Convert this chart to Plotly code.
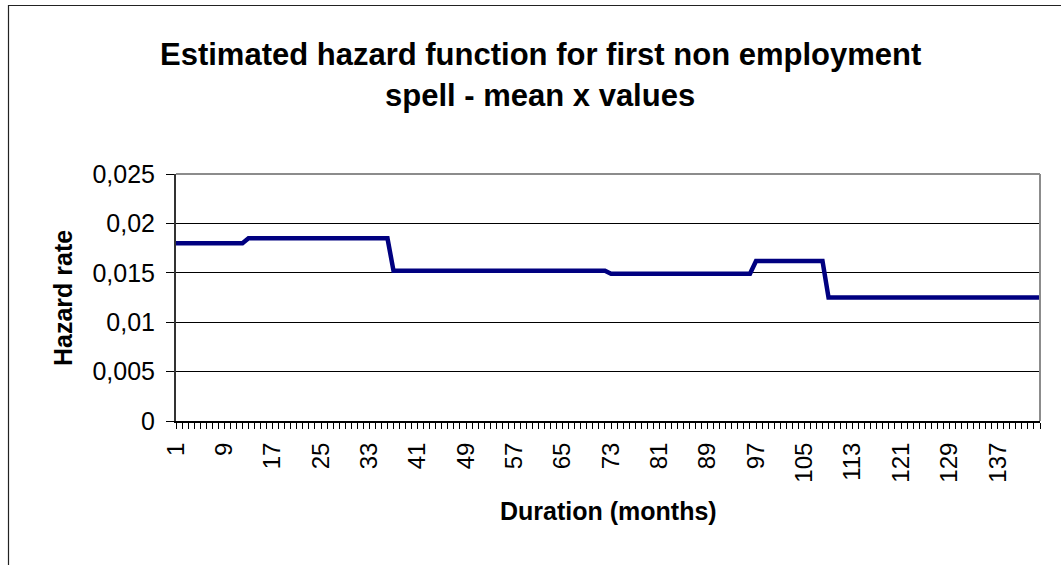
import plotly.graph_objects as go

# ---- data ----
months = list(range(1, 145))
hazard = ([0.0180] * 12 + [0.0185] * 24 + [0.0152] * 36 +
          [0.0149] * 24 + [0.0162] * 12 + [0.0125] * 36)

x_tick_vals = [1, 9, 17, 25, 33, 41, 49, 57, 65, 73, 81, 89, 97, 105, 113, 121, 129, 137]
x_tick_text = [str(v) for v in x_tick_vals]
y_tick_vals = [0, 0.005, 0.01, 0.015, 0.02, 0.025]
y_tick_text = ["0", "0,005", "0,01", "0,015", "0,02", "0,025"]

title_line1 = "Estimated hazard function for first non employment"
title_line2 = "spell - mean x values"
x_title = "Duration (months)"
y_title = "Hazard rate"

# ---- layout geometry (pixels) ----
W, H = 1061, 565
L, T = 176, 174
R = W - 1040
B = H - 421
pw, ph = W - L - R, H - T - B


def px_x(p):  # page pixel -> paper coordinate
    return (p - L) / pw


def px_y(p):
    return (H - B - p) / ph


FONT = "Arial, Liberation Sans, sans-serif"

fig = go.Figure()
fig.add_trace(go.Scatter(
    x=months, y=hazard, mode="lines",
    line=dict(color="#000080", width=4.5),
    showlegend=False, hoverinfo="skip",
))

fig.update_layout(
    width=W, height=H,
    margin=dict(l=L, r=R, t=T, b=B, pad=0),
    paper_bgcolor="white", plot_bgcolor="white",
    font=dict(family=FONT, size=24, color="black"),
    showlegend=False,
    xaxis=dict(
        range=[1, 144], tickmode="array", tickvals=x_tick_vals, ticktext=x_tick_text,
        tickangle=-90, ticks="outside", ticklen=6, tickcolor="black", tickwidth=1,
        ticklabelstandoff=4,
        showgrid=False, zeroline=False, showline=True, linecolor="black", linewidth=2,
        tickfont=dict(family=FONT, size=24),
        minor=dict(dtick=1, tick0=1, ticks="outside", ticklen=6, tickcolor="black",
                   tickwidth=1, showgrid=False),
    ),
    yaxis=dict(
        range=[0, 0.025], tickmode="array", tickvals=y_tick_vals, ticktext=y_tick_text,
        ticks="outside", ticklen=8, tickcolor="black", tickwidth=1,
        ticklabelstandoff=6,
        showgrid=True, gridcolor="black", gridwidth=1, zeroline=False,
        showline=True, linecolor="#333333", linewidth=2,
        tickfont=dict(family=FONT, size=25),
    ),
    shapes=[
        dict(type="line", xref="paper", yref="paper", x0=0, x1=1, y0=1, y1=1,
             line=dict(color="#8c8c8c", width=2), layer="above"),
        dict(type="line", xref="paper", yref="paper", x0=1, x1=1, y0=0, y1=1,
             line=dict(color="#8c8c8c", width=2), layer="above"),
        dict(type="rect", xref="paper", yref="paper",
             x0=px_x(8.5), x1=px_x(W + 30), y0=px_y(5.5), y1=px_y(H + 30),
             line=dict(color="#222222", width=1.2), layer="above"),
    ],
    annotations=[
        dict(text="<b>%s</b>" % title_line1, xref="paper", yref="paper",
             x=px_x(540), y=px_y(54), xanchor="center", yanchor="middle",
             showarrow=False, font=dict(family=FONT, size=31)),
        dict(text="<b>%s</b>" % title_line2, xref="paper", yref="paper",
             x=px_x(540), y=px_y(96), xanchor="center", yanchor="middle",
             showarrow=False, font=dict(family=FONT, size=31)),
        dict(text="<b>%s</b>" % x_title, xref="paper", yref="paper",
             x=px_x(608), y=px_y(511), xanchor="center", yanchor="middle",
             showarrow=False, font=dict(family=FONT, size=25)),
        dict(text="<b>%s</b>" % y_title, xref="paper", yref="paper",
             x=px_x(63), y=px_y(298), xanchor="center", yanchor="middle",
             textangle=-90, showarrow=False, font=dict(family=FONT, size=25)),
    ],
)

fig.write_html("out.html", config={"displayModeBar": False},
               post_script="document.body.style.margin='0px';")
